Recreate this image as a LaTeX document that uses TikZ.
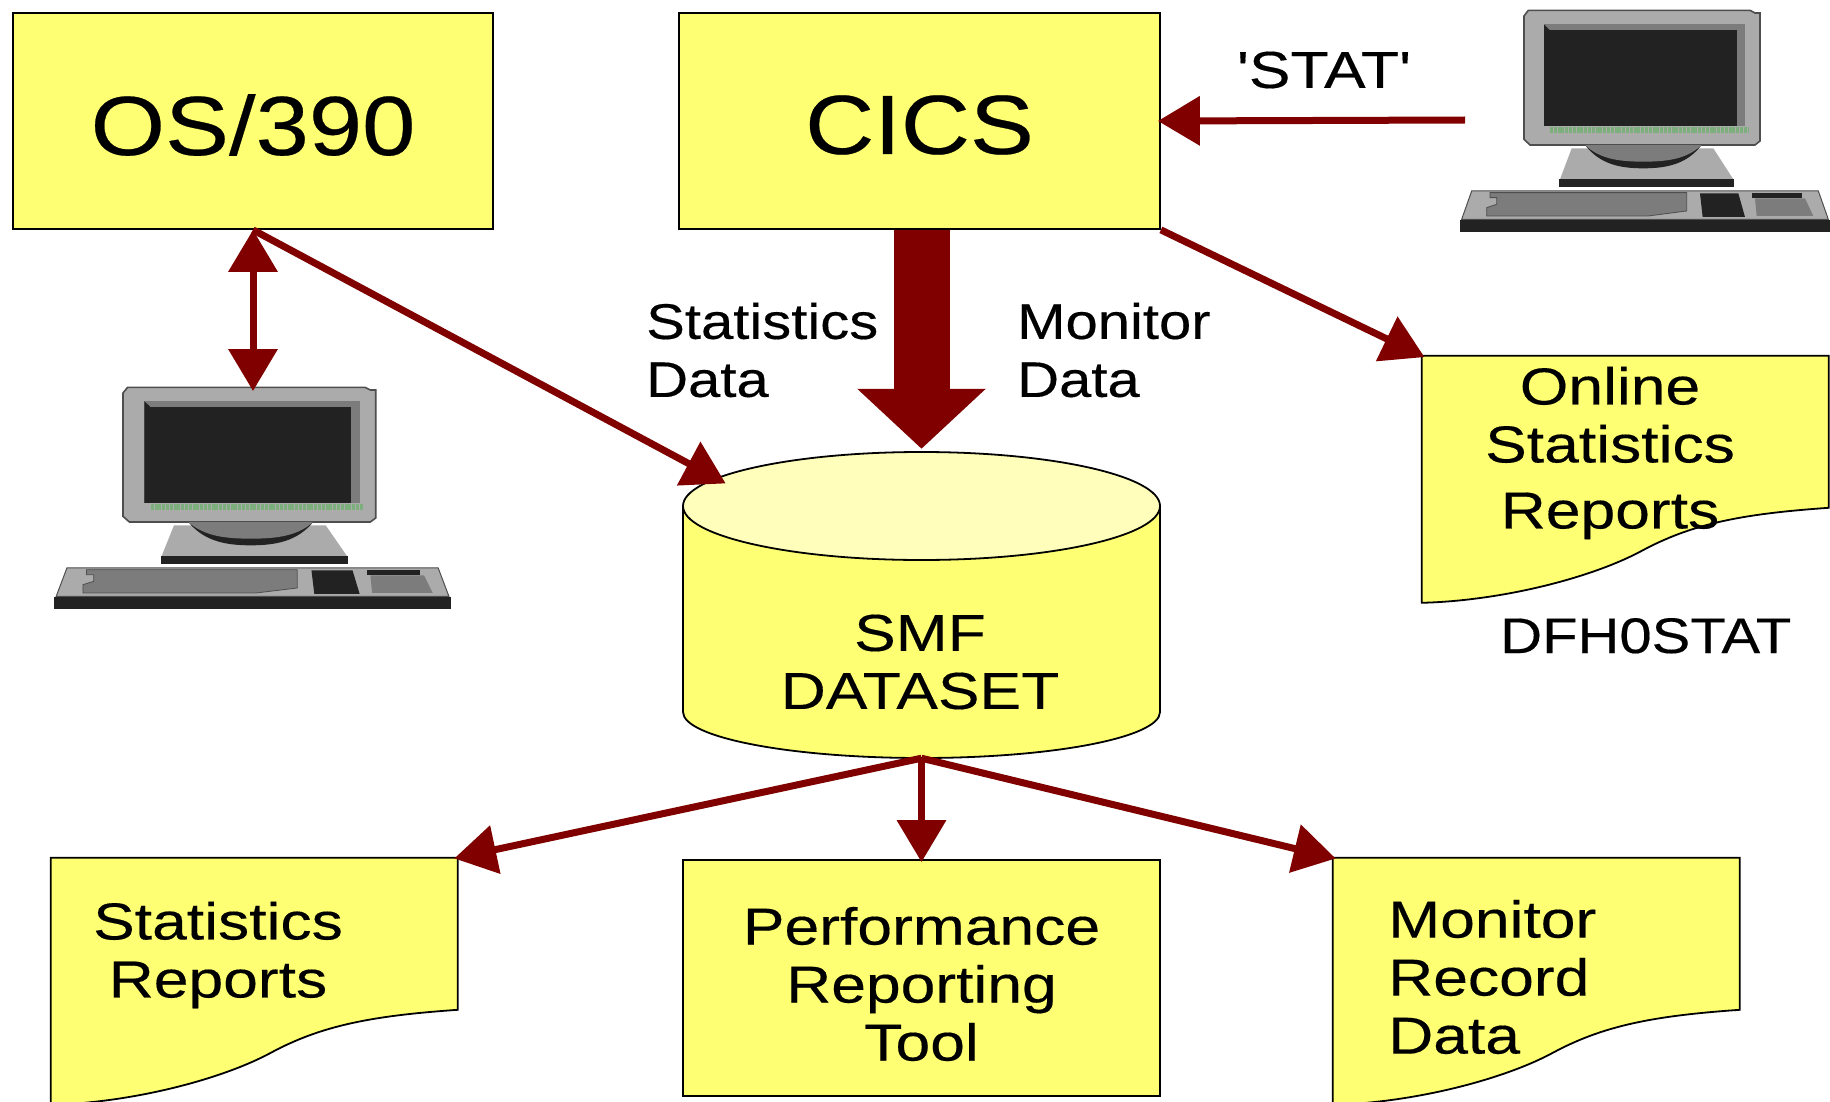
\documentclass[tikz,border=0pt]{standalone}
\usepackage{fontspec}
\usetikzlibrary{arrows.meta}
\newfontfamily\lab[FakeStretch=1.16,FakeBold=0.3]{Liberation Sans}
\newfontfamily\labw[FakeStretch=1.2,FakeBold=0.3]{Liberation Sans}
\newfontfamily\labbig[FakeStretch=1.14,FakeBold=0.3]{Liberation Sans}
\definecolor{boxy}{HTML}{FFFF73}
\definecolor{lighty}{HTML}{FFFFBB}
\definecolor{arrowred}{HTML}{800000}
\definecolor{pcgray}{HTML}{ABABAB}
\definecolor{pcmid}{HTML}{7C7C7C}
\definecolor{pcdark}{HTML}{222222}
\definecolor{pcgreen}{HTML}{7DAF7D}
\tikzset{
  box/.style={draw=black,fill=boxy,line width=1.8pt,inner sep=0pt},
  bounds/.style={inner sep=0pt},
  txtbig/.style={inner sep=0pt,font=\labbig\fontsize{84}{90}\selectfont},
  txt/.style={inner sep=0pt,align=center,text=black,font=\labw\fontsize{52}{58}\selectfont},
  txts/.style={inner sep=0pt,align=left,text=black,font=\lab\fontsize{50}{58}\selectfont},
  txtl/.style={txt,align=left},
  outline/.style={draw=black,line width=1.8pt,fill=boxy},
  link/.style={draw=arrowred,line width=7pt,shorten >=-3pt,-{Triangle[length=42pt,width=48pt]}},
  dlink/.style={draw=arrowred,line width=7pt,{Triangle[length=42pt,width=48pt]}-{Triangle[length=42pt,width=48pt]}},
  bigarrow/.style={draw=arrowred,line width=56pt,-{Triangle[length=60pt,width=125pt]}},
  computer/.pic={
    % monitor bezel
    \path[fill=pcgray,draw=pcdark!80,line width=1.6pt] (252,45)--(265,28)--(930,28)--(945,36)--(960,36)--(960,420)--(945,432)--(270,432)--(252,415)--cycle;
    \fill[pcmid] (312,70) rectangle (915,398);
    \fill[pcdark] (312,70)--(330,88)--(330,375)--(312,392)--cycle;
    \fill[pcdark] (330,88) rectangle (890,375);
    \fill[pcgray] (312,376) rectangle (925,398);
    \draw[pcgreen,line width=6pt,dash pattern=on 3pt off .8pt] (330,387)--(925,387);
    % stand
    \fill[pcgray] (395,442)--(820,442)--(880,535)--(360,535)--cycle;
    \fill[pcdark] (358,535) rectangle (883,558);
    \fill[pcdark] (435,432) .. controls (480,490) and (540,502) .. (610,502) .. controls (680,502) and (740,490) .. (785,432)--cycle;
    \fill[pcmid] (435,432) .. controls (480,475) and (540,482) .. (610,482) .. controls (680,482) and (740,475) .. (785,432)--cycle;
    % keyboard
    \path[fill=pcgray,draw=pcdark!80,line width=1pt] (95,570)--(1135,570)--(1165,655)--(65,655)--cycle;
    \fill[pcdark] (60,658) rectangle (1170,692);
    \path[fill=pcmid,draw=pcdark!80,line width=.8pt] (150,575)--(740,575)--(740,630)--(625,645)--(140,645)--(140,620)--(170,610)--(170,590)--(150,590)--cycle;
    \fill[pcdark] (780,577)--(895,577)--(915,648)--(788,648)--cycle;
    \fill[pcdark] (935,577) rectangle (1085,590);
    \fill[pcmid] (945,592)--(1095,592)--(1120,645)--(950,645)--cycle;
  }
}
\newcommand{\docshape}[1]{%
  \begin{scope}[shift={(#1.north west)}]
    \path[outline] (0,0)--(407,0)--(407,152) .. controls (320,158) and (270,168) .. (220,195) .. controls (170,222) and (80,245) .. (0,247)--cycle;
  \end{scope}}
\begin{document}
\begin{tikzpicture}[x=1pt,y=-1pt]
\useasboundingbox (0,0) rectangle (1830,1102);
\clip (0,0) rectangle (1830,1102);
\fill[white] (0,0) rectangle (1830,1102);

% boxes
\node[box,minimum width=480pt,minimum height=216pt] (os) at (253,121) {};
\node[box,minimum width=481pt,minimum height=216pt] (cics) at (919.5,121) {};
\node[box,minimum width=477pt,minimum height=236pt] (perf) at (921.5,978) {};

% bounds of the drawn shapes
\node[bounds,minimum width=477pt,minimum height=306pt] (smf) at (921.5,605) {};
\node[bounds,minimum width=407pt,minimum height=247pt] (online) at (1625.5,479.5) {};
\node[bounds,minimum width=406pt,minimum height=247pt] (statdoc) at (254,981.5) {};
\node[bounds,minimum width=405pt,minimum height=247pt] (mondoc) at (1535.5,981.5) {};

% cylinder
\path[outline] (smf.center |- 0,506) ++(-238.5,0) -- ++(0,206) arc[start angle=180,end angle=0,x radius=238.5,y radius=46] -- ++(0,-206) -- cycle;
\path[draw=black,line width=1.8pt,fill=lighty] (921.5,506) ellipse [x radius=238.5,y radius=54];

% documents
\docshape{online}
\docshape{statdoc}
\docshape{mondoc}

% computers
\pic (pctop) [xscale=.3333,yscale=.3333] at (1440,1) {computer};
\pic (pcleft) [xscale=.357,yscale=.3333] at (33,378) {computer};

% free ends
\coordinate (statsrc) at (1465,120);
\coordinate (pcin) at (253,391);
\coordinate (smfin) at (723,482);

% connectors
\draw[bigarrow] (cics.south -| smf.north) -- ([yshift=3pt]smf.north);
\draw[link] (statsrc) -- (cics.east);
\draw[dlink] (os.south) -- (pcin);
\draw[link] (os.south) -- (smfin);
\draw[link] (cics.south east) -- (online.north west);
\draw[link] (smf.south) -- (statdoc.north east);
\draw[link] (smf.south) -- (perf.north -| smf.south);
\draw[link] (smf.south) -- (mondoc.north west);

% labels
\node[txtbig] (oslabel) at (253,125) {OS/390};
\node[txtbig] (cicslabel) at (919.5,125) {CICS};
\node[txt] (perflabel) at (921.5,984) {Performance\\Reporting\\Tool};
\node[txt] (smflabel) at (920,662) {SMF\\DATASET};
\node[txt] (statlabel) at (1610,453) {Online\\Statistics\\[8pt]Reports};
\node[txts,anchor=base west] (dfh) at (1500,653) {DFH0STAT};
\node[txts,anchor=west] (statdata) at (646,350) {Statistics\\Data};
\node[txts,anchor=west] (mondata) at (1017,350) {Monitor\\Data};
\node[txt] (stat) at (1324,70) {'STAT'};
\node[txt] (statrep) at (218,955) {Statistics\\Reports};
\node[txtl,anchor=west] (monrep) at (1388,977) {Monitor\\Record\\Data};
\end{tikzpicture}
\end{document}
